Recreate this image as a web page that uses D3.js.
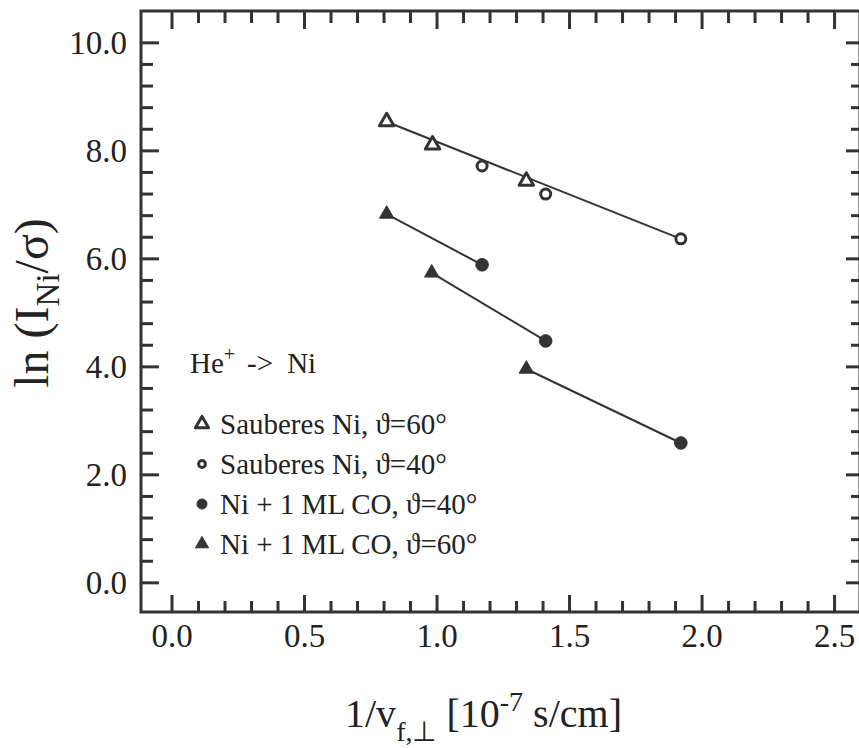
<!DOCTYPE html>
<html lang="en">
<head>
    <meta charset="UTF-8">
    <title>ln(I_Ni/sigma) vs 1/v</title>
    <script src="https://d3js.org/d3.v7.min.js"></script>
    <style>
        body { margin: 0; background: #fff; }
        svg { display: block; }
        text { font-family: "Liberation Serif", "Times New Roman", serif; fill: #222; }
    </style>
</head>
<body>
<svg></svg>
<script>
    // data
    const sauberes60X = [0.81, 0.983, 1.337];
    const sauberes60Y = [8.54, 8.11, 7.44];
    const sauberes40X = [1.17, 1.41, 1.92];
    const sauberes40Y = [7.72, 7.20, 6.37];
    const co40X = [1.17, 1.41, 1.92];
    const co40Y = [5.89, 4.48, 2.59];
    const co60X = [0.81, 0.98, 1.337];
    const co60Y = [6.83, 5.74, 3.96];

    // straight fit lines: [x1, y1, x2, y2]
    const fitLines = [
        [0.81, 8.54, 1.92, 6.37],
        [0.81, 6.83, 1.17, 5.89],
        [0.98, 5.74, 1.41, 4.48],
        [1.337, 3.96, 1.92, 2.59]
    ];

    const xMajor = [0, 0.5, 1.0, 1.5, 2.0, 2.5];
    const xMinor = d3.range(0, 26).map(i => i / 10).filter(v => Math.round(v * 10) % 5 !== 0);
    const yMajor = [0, 2, 4, 6, 8, 10];
    const yMinor = d3.range(0, 26).map(i => i * 0.4).filter(v => Math.round(v * 10) % 20 !== 0);

    const legendLabels = [
        "Sauberes Ni, \u03D1=60\u00B0",
        "Sauberes Ni, \u03D1=40\u00B0",
        "Ni + 1 ML CO, \u03D1=40\u00B0",
        "Ni + 1 ML CO, \u03D1=60\u00B0"
    ];

    const W = 859, H = 748;
    const margin = {top: 11, left: 141};
    const width = 719, height = 601;

    const svg = d3.select("svg").attr("width", W).attr("height", H);
    const g = svg.append("g").attr("transform", `translate(${margin.left},${margin.top})`);

    const x = d3.scaleLinear().domain([-0.117, 2.596]).range([0, width]);
    const y = d3.scaleLinear().domain([-0.54, 10.59]).range([height, 0]);

    const fmt = d3.format(".1f");
    const ink = "#333";

    // inward tick marks on all four sides, drawn as small filled bars
    function xTicks(values, len, y0, dir) {
        g.append("g").selectAll("rect").data(values).enter().append("rect")
            .attr("x", d => x(d) - 1.5).attr("width", 3)
            .attr("y", dir > 0 ? y0 : y0 - len).attr("height", len)
            .attr("fill", ink);
    }
    function yTicks(values, len, x0, dir) {
        g.append("g").selectAll("rect").data(values).enter().append("rect")
            .attr("y", d => y(d) - 1.5).attr("height", 3)
            .attr("x", dir > 0 ? x0 : x0 - len).attr("width", len)
            .attr("fill", ink);
    }
    xTicks(xMajor, 17, height, -1);
    xTicks(xMinor, 11, height, -1);
    xTicks(xMajor, 18, 0, 1);
    xTicks(xMinor, 12, 0, 1);
    yTicks(yMajor, 18, 0, 1);
    yTicks(yMinor, 12, 0, 1);
    yTicks(yMajor, 14, width, -1);
    yTicks(yMinor, 9, width, -1);

    // tick labels
    g.append("g").selectAll("text").data(xMajor).enter().append("text")
        .attr("x", d => x(d)).attr("y", height + 35)
        .attr("text-anchor", "middle").attr("font-size", 33)
        .text(fmt);
    g.append("g").selectAll("text").data(yMajor).enter().append("text")
        .attr("x", -14).attr("y", d => y(d) + 11)
        .attr("text-anchor", "end").attr("font-size", 33)
        .text(fmt);

    // frame
    g.append("rect")
        .attr("x", 0).attr("y", 0).attr("width", width).attr("height", height)
        .attr("fill", "none").attr("stroke", ink).attr("stroke-width", 3);

    // fit lines
    g.append("g").selectAll("line").data(fitLines).enter().append("line")
        .attr("x1", d => x(d[0])).attr("y1", d => y(d[1]))
        .attr("x2", d => x(d[2])).attr("y2", d => y(d[3]))
        .attr("stroke", ink).attr("stroke-width", 2);

    const tri = d3.symbol(d3.symbolTriangle, 90);
    const triSmall = d3.symbol(d3.symbolTriangle, 75);
    const series = [
        {xs: sauberes60X, ys: sauberes60Y, shape: "tri", open: true},
        {xs: sauberes40X, ys: sauberes40Y, shape: "circle", open: true},
        {xs: co40X, ys: co40Y, shape: "circle", open: false},
        {xs: co60X, ys: co60Y, shape: "tri", open: false}
    ];

    function drawMarker(sel, s, r, path) {
        if (s.shape === "tri") {
            sel.append("path").attr("d", path)
                .attr("fill", s.open ? "#fff" : ink)
                .attr("stroke", ink).attr("stroke-width", s.open ? 3 : 1)
                .attr("stroke-linejoin", "round");
        } else {
            sel.append("circle").attr("r", r)
                .attr("fill", s.open ? "#fff" : ink)
                .attr("stroke", ink).attr("stroke-width", s.open ? 3 : 1);
        }
    }

    series.forEach(s => {
        s.xs.forEach((xv, i) => {
            const m = g.append("g").attr("transform", `translate(${x(xv)},${y(s.ys[i])})`);
            drawMarker(m, s, s.open ? 5 : 6.3, tri);
        });
    });

    // legend
    const legend = svg.append("g").attr("font-size", 29);
    const he = legend.append("text").attr("x", 190).attr("y", 373);
    he.append("tspan").text("He");
    he.append("tspan").attr("dy", -12).attr("font-size", 20).text("+");
    he.append("tspan").attr("dy", 12).attr("dx", 12).text("->");
    he.append("tspan").attr("dx", 14).text("Ni");

    legendLabels.forEach((lab, i) => {
        const cy = 424 + i * 40;
        const m = legend.append("g").attr("transform", `translate(202,${cy})`);
        drawMarker(m, series[i], series[i].open ? 3.4 : 5, triSmall);
        legend.append("text").attr("x", 220).attr("y", cy + 10).text(lab);
    });

    // axis titles
    const xt = svg.append("text").attr("x", 345).attr("y", 727).attr("font-size", 40);
    xt.append("tspan").text("1/v");
    xt.append("tspan").attr("dy", 14).attr("font-size", 28).text("f,\u22A5");
    xt.append("tspan").attr("dy", -14).text(" [10");
    xt.append("tspan").attr("dy", -16).attr("font-size", 28).text("-7");
    xt.append("tspan").attr("dy", 16).text(" s/cm]");

    const yt = svg.append("text")
        .attr("transform", "translate(48,303) rotate(-90)")
        .attr("text-anchor", "middle").attr("font-size", 48);
    yt.append("tspan").text("ln (I");
    yt.append("tspan").attr("dy", 11).attr("font-size", 33).text("Ni");
    yt.append("tspan").attr("dy", -11).text("/\u03C3)");
</script>
</body>
</html>
